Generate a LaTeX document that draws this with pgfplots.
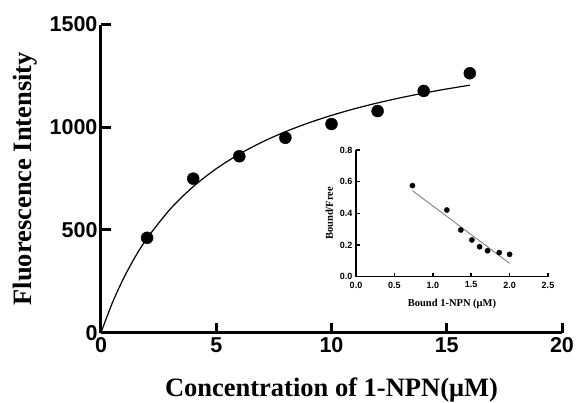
\documentclass[border=0pt]{standalone}
\usepackage{fontspec}
\setmainfont{Liberation Serif}
\setsansfont{Liberation Sans}
\usepackage{pgfplots}
\pgfplotsset{compat=1.18}
\begin{document}
\begin{tikzpicture}
\useasboundingbox (-101pt,-70.3pt) rectangle (475pt,332.7pt);
\begin{axis}[
  at={(0,0)}, anchor=south west,
  scale only axis, width=461pt, height=308.1pt,
  xmin=0, xmax=20, ymin=0, ymax=1500,
  axis lines=left, axis line style={-, line width=3pt},
  xtick={0,5,10,15,20}, ytick={0,500,1000,1500},
  tick align=inside, major tick length=10pt,
  tick style={line width=3pt, black},
  /pgf/number format/assume math mode=true,
  /pgf/number format/1000 sep={},
  ticklabel style={font=\sffamily\bfseries\fontsize{21.5}{21.5}\selectfont},
  xticklabel style={yshift=-1pt},
  xlabel={Concentration of 1-NPN(μM)},
  ylabel={Fluorescence Intensity},
  label style={font=\bfseries\fontsize{26.5}{26.5}\selectfont},
  xlabel style={yshift=-19pt},
  ylabel style={yshift=6pt},
  clip=false,
]
\addplot[black, line width=1.2pt, smooth] coordinates {
(0,0) (0.5,147.4) (1,269.4) (1.5,372.2) (2,459.8) (3,601.5) (4,711.1)
(5,798.4) (6,869.5) (7,928.6) (8,978.5) (9,1021.1) (10,1058.0)
(11,1090.3) (12,1118.7) (13,1143.9) (14,1166.4) (15,1186.7) (16,1205.0)};
\addplot[only marks, mark=*, mark size=6pt, black] coordinates {
(2,462) (4,750) (6,859) (8,949) (10,1016) (12,1079) (14,1177) (16,1263)};
\end{axis}
\begin{axis}[
  at={(255pt,56pt)}, anchor=south west,
  scale only axis, width=192pt, height=126.7pt,
  xmin=0, xmax=2.5, ymin=0, ymax=0.8,
  axis lines=left, axis line style={-, line width=1.5pt},
  xtick={0,0.5,1,1.5,2,2.5}, ytick={0,0.2,0.4,0.6,0.8},
  tick align=inside, major tick length=4pt,
  tick style={line width=1.5pt, black},
  /pgf/number format/assume math mode=true,
  /pgf/number format/.cd, fixed, fixed zerofill, precision=1,
  /pgfplots/.cd,
  ticklabel style={font=\sffamily\bfseries\fontsize{9}{9}\selectfont},
  xticklabel style={yshift=-1.5pt},
  xlabel={Bound 1-NPN (μM)},
  ylabel={Bound/Free},
  label style={font=\bfseries\fontsize{10.5}{10.5}\selectfont},
  xlabel style={yshift=-4pt},
  clip=false,
]
\addplot[gray, line width=0.9pt] coordinates {(0.735,0.543) (2.0,0.084)};
\addplot[only marks, mark=*, mark size=2.6pt, black] coordinates {
(0.735,0.575) (1.183,0.421) (1.365,0.295) (1.509,0.232) (1.609,0.189)
(1.713,0.164) (1.865,0.152) (2.0,0.141)};
\end{axis}
\end{tikzpicture}
\end{document}
